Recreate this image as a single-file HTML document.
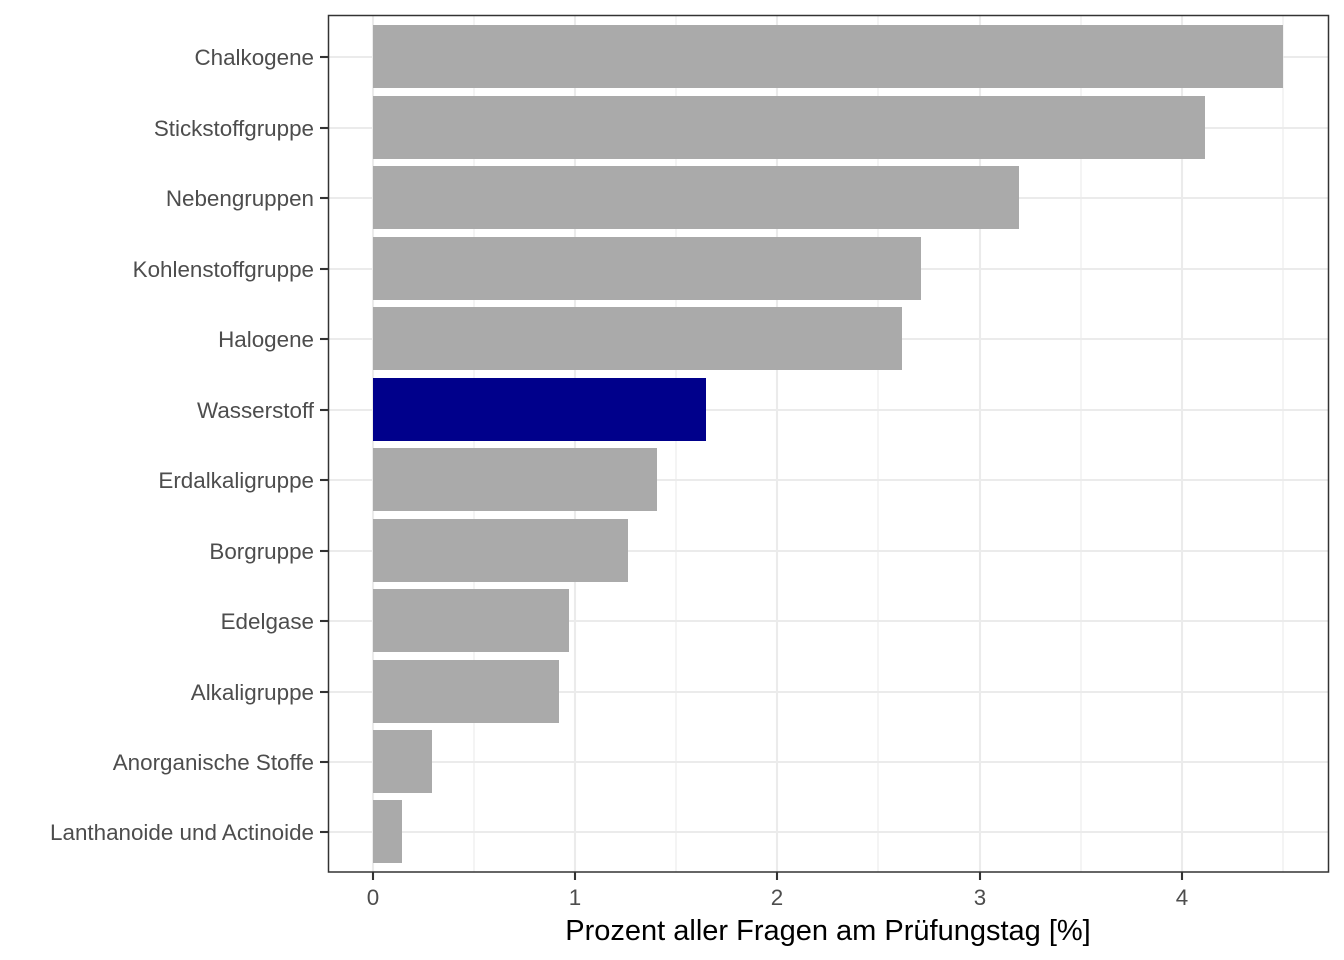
<!DOCTYPE html>
<html><head><meta charset="utf-8"><style>body{margin:0;background:#fff}svg{display:block}</style></head><body>
<svg width="1344" height="960" xmlns="http://www.w3.org/2000/svg" font-family="Liberation Sans, Arial, sans-serif">
<rect width="1344" height="960" fill="#fff"/>
<g stroke="#ebebeb" stroke-width="1.1">
<line x1="474" y1="15" x2="474" y2="872"/><line x1="676" y1="15" x2="676" y2="872"/><line x1="878" y1="15" x2="878" y2="872"/><line x1="1081" y1="15" x2="1081" y2="872"/><line x1="1283" y1="15" x2="1283" y2="872"/>
</g>
<g stroke="#ebebeb" stroke-width="2.1">
<line x1="373" y1="15" x2="373" y2="872"/><line x1="575" y1="15" x2="575" y2="872"/><line x1="777" y1="15" x2="777" y2="872"/><line x1="980" y1="15" x2="980" y2="872"/><line x1="1182" y1="15" x2="1182" y2="872"/>
<line x1="328" y1="57" x2="1329" y2="57"/><line x1="328" y1="128" x2="1329" y2="128"/><line x1="328" y1="198" x2="1329" y2="198"/><line x1="328" y1="269" x2="1329" y2="269"/><line x1="328" y1="339" x2="1329" y2="339"/><line x1="328" y1="410" x2="1329" y2="410"/><line x1="328" y1="480" x2="1329" y2="480"/><line x1="328" y1="551" x2="1329" y2="551"/><line x1="328" y1="621" x2="1329" y2="621"/><line x1="328" y1="692" x2="1329" y2="692"/><line x1="328" y1="762" x2="1329" y2="762"/><line x1="328" y1="832" x2="1329" y2="832"/>
</g>
<g fill="#aaaaaa">
<rect x="373" y="25" width="910" height="63"/>
<rect x="373" y="96" width="832" height="63"/>
<rect x="373" y="166" width="646" height="63"/>
<rect x="373" y="237" width="548" height="63"/>
<rect x="373" y="307" width="529" height="63"/>
<rect x="373" y="378" width="333" height="63" fill="#00008b"/>
<rect x="373" y="448" width="284" height="63"/>
<rect x="373" y="519" width="255" height="63"/>
<rect x="373" y="589" width="196" height="63"/>
<rect x="373" y="660" width="186" height="63"/>
<rect x="373" y="730" width="59" height="63"/>
<rect x="373" y="800" width="29" height="63"/>
</g>
<rect x="328.5" y="15.5" width="1000" height="856.5" fill="none" stroke="#333" stroke-width="1.5"/>
<g stroke="#333" stroke-width="2.1">
<line x1="320" y1="57" x2="328" y2="57"/><line x1="320" y1="128" x2="328" y2="128"/><line x1="320" y1="198" x2="328" y2="198"/><line x1="320" y1="269" x2="328" y2="269"/><line x1="320" y1="339" x2="328" y2="339"/><line x1="320" y1="410" x2="328" y2="410"/><line x1="320" y1="480" x2="328" y2="480"/><line x1="320" y1="551" x2="328" y2="551"/><line x1="320" y1="621" x2="328" y2="621"/><line x1="320" y1="692" x2="328" y2="692"/><line x1="320" y1="762" x2="328" y2="762"/><line x1="320" y1="832" x2="328" y2="832"/>
<line x1="373" y1="872" x2="373" y2="880"/><line x1="575" y1="872" x2="575" y2="880"/><line x1="777" y1="872" x2="777" y2="880"/><line x1="980" y1="872" x2="980" y2="880"/><line x1="1182" y1="872" x2="1182" y2="880"/>
</g>
<g fill="#4d4d4d" font-size="22.4" text-anchor="end">
<text x="314" y="65">Chalkogene</text>
<text x="314" y="136">Stickstoffgruppe</text>
<text x="314" y="206">Nebengruppen</text>
<text x="314" y="277">Kohlenstoffgruppe</text>
<text x="314" y="347">Halogene</text>
<text x="314" y="418">Wasserstoff</text>
<text x="314" y="488">Erdalkaligruppe</text>
<text x="314" y="559">Borgruppe</text>
<text x="314" y="629">Edelgase</text>
<text x="314" y="700">Alkaligruppe</text>
<text x="314" y="770">Anorganische Stoffe</text>
<text x="314" y="840">Lanthanoide und Actinoide</text>
</g>
<g fill="#4d4d4d" font-size="22.4" text-anchor="middle">
<text x="373" y="905">0</text><text x="575" y="905">1</text><text x="777" y="905">2</text><text x="980" y="905">3</text><text x="1182" y="905">4</text>
</g>
<text x="828" y="940" font-size="29" text-anchor="middle" fill="#000">Prozent aller Fragen am Prüfungstag [%]</text>
</svg>
</body></html>
